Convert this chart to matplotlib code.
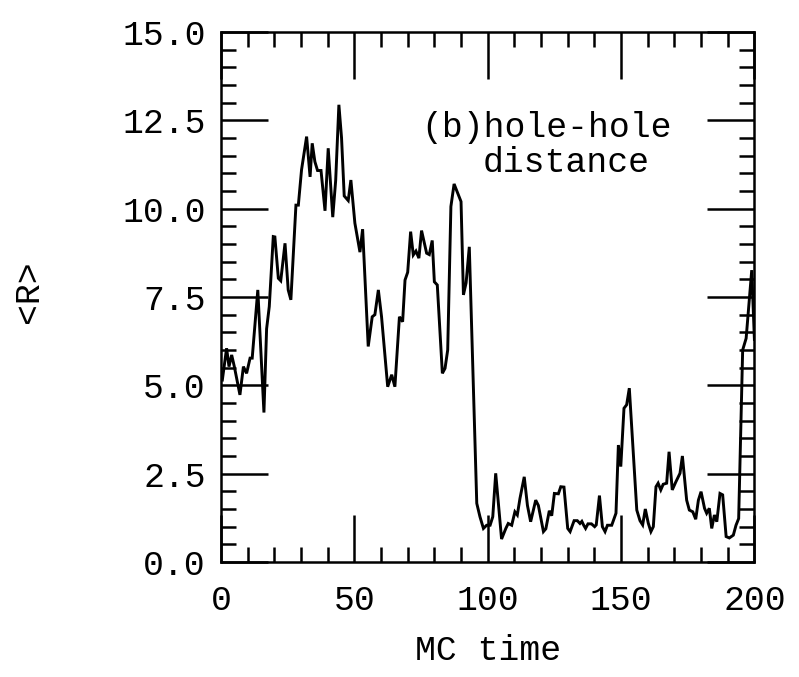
import matplotlib
matplotlib.use("Agg")
import matplotlib.pyplot as plt
from matplotlib.ticker import MultipleLocator

mc_time = [0.5, 2.1, 3, 4, 5, 7.1, 8.4, 9.6, 10.9, 11.7, 13.8, 16.1, 17.1, 18.1,
           19.6, 20.2, 21.5, 22.4, 24, 25.2, 26.2, 28.1, 29, 30.2, 32.1, 33.4,
           34.2, 35.2, 36.2, 37.5, 39, 40.2, 41.9, 43, 44.2, 45.2, 46.2, 47.7,
           48.7, 50.2, 52.1, 53.1, 55.2, 56.7, 57.7, 59, 60.2, 62.5, 64, 65.2,
           66.9, 68.1, 69, 70, 71.1, 72.1, 73.1, 74.2, 75.2, 77.1, 78.1, 79.2,
           80, 81.1, 83, 84, 85, 86.2, 87.4, 90, 90.9, 91.9, 93.1, 95.9, 97.1,
           98.4, 99.6, 100.9, 101.9, 103, 105.2, 106.8, 107.7, 109, 110.2,
           111.1, 112.1, 113.7, 114.9, 116.1, 118, 119, 120.9, 121.8, 123.1,
           124, 125, 126.5, 127.4, 128.6, 130, 130.9, 132.4, 133.6, 134.6,
           135.3, 136, 136.7, 137.6, 138.9, 140.1, 140.7, 141.9, 143, 144,
           144.9, 146.5, 148.1, 149, 149.9, 151.1, 152.1, 153.1, 155.9, 157.1,
           158.1, 159.1, 160.2, 161.2, 162.1, 163.1, 163.9, 164.9, 165.8,
           167.1, 168, 169.2, 170.5, 172.1, 173, 174.6, 175.6, 176.9, 178,
           179, 180, 181.3, 182.1, 183.1, 184, 185, 185.9, 187.1, 188.1,
           189.4, 190.6, 192.1, 193.1, 194.1, 195.6, 196.9, 199, 200]
r_mean = [5.15, 6.05, 5.53, 5.86, 5.53, 4.73, 5.53, 5.34, 5.77, 5.77, 7.70, 4.23,
          6.6, 7.23, 9.21, 9.2, 8.03, 7.96, 9.02, 7.7, 7.42, 10.1, 10.1, 11.1,
          12.04, 10.9, 11.85, 11.33, 11.08, 11.08, 9.94, 11.71, 9.76, 10.8,
          12.94, 12.0, 10.36, 10.23, 10.81, 9.59, 8.77, 9.42, 6.1, 6.94, 7.0,
          7.7, 6.94, 4.96, 5.3, 4.96, 6.94, 6.8, 7.98, 8.2, 9.35, 8.69, 8.8,
          8.6, 9.38, 8.74, 8.7, 9.1, 7.93, 7.84, 5.34, 5.48, 6.0, 10.06, 10.7,
          10.2, 7.56, 7.9, 8.92, 1.66, 1.28, 0.95, 1.04, 1.04, 1.28, 2.51,
          0.65, 0.95, 1.09, 1.04, 1.42, 1.33, 1.8, 2.41, 1.6, 1.14, 1.75, 1.6,
          0.86, 0.94, 1.45, 1.31, 1.94, 1.93, 2.13, 2.12, 0.95, 0.86, 1.17,
          1.17, 1.09, 1.15, 1.04, 0.95, 1.08, 1.08, 1.0, 1.05, 1.88, 1.0, 0.86,
          1.04, 1.04, 1.38, 3.31, 2.7, 4.35, 4.45, 4.92, 1.47, 1.17, 1.05,
          1.5, 1.1, 0.86, 1.0, 2.13, 2.23, 2.04, 2.2, 2.23, 3.12, 2.04, 2.26,
          2.51, 3.0, 1.75, 1.47, 1.42, 1.21, 1.75, 1.99, 1.52, 1.38, 1.52,
          0.95, 1.33, 1.14, 1.94, 1.9, 0.72, 0.68, 0.76, 1.04, 1.23, 6.0,
          6.33, 8.26, 6.3]

x_ticks = [0, 50, 100, 150, 200]
x_tick_labels = ["0", "50", "100", "150", "200"]
y_ticks = [0.0, 2.5, 5.0, 7.5, 10.0, 12.5, 15.0]
y_tick_labels = ["0.0", "2.5", "5.0", "7.5", "10.0", "12.5", "15.0"]

plt.rcParams['font.family'] = ['Liberation Mono', 'DejaVu Sans Mono', 'DejaVu Sans']
FS = 25

W, H = 799, 677
fig = plt.figure(figsize=(W / 100, H / 100), dpi=100)
ax = fig.add_axes([221 / W, (H - 562) / H, (754.4 - 221) / W, (562 - 32) / H])

ax.plot(mc_time, r_mean, color='black', lw=2.1, solid_joinstyle='miter')

ax.set_xlim(0, 200)
ax.set_ylim(0, 15)
ax.set_xticks(x_ticks)
ax.set_xticklabels(x_tick_labels)
ax.set_yticks(y_ticks)
ax.set_yticklabels(y_tick_labels)
ax.xaxis.set_minor_locator(MultipleLocator(10))
ax.yaxis.set_minor_locator(MultipleLocator(0.5))

for s in ax.spines.values():
    s.set_linewidth(1.8)
ax.tick_params(which='both', direction='in', top=True, right=True, width=1.8,
               colors='black', labelsize=FS)
ax.tick_params(which='major', length=34)
ax.tick_params(which='minor', length=11)
ax.tick_params(axis='y', which='major', pad=11)
ax.tick_params(axis='x', which='major', pad=16)

ax.set_xlabel("MC time", fontsize=FS)
ax.xaxis.set_label_coords(0.5, -0.135)
ax.set_ylabel("<R>", fontsize=FS)
ax.yaxis.set_label_coords(-0.33, 0.51)

ax.text(75, 12.3, "(b)hole-hole", fontsize=FS, ha='left', va='center')
ax.text(98.2, 11.3, "distance", fontsize=FS, ha='left', va='center')

fig.savefig("out.png", dpi=100)
